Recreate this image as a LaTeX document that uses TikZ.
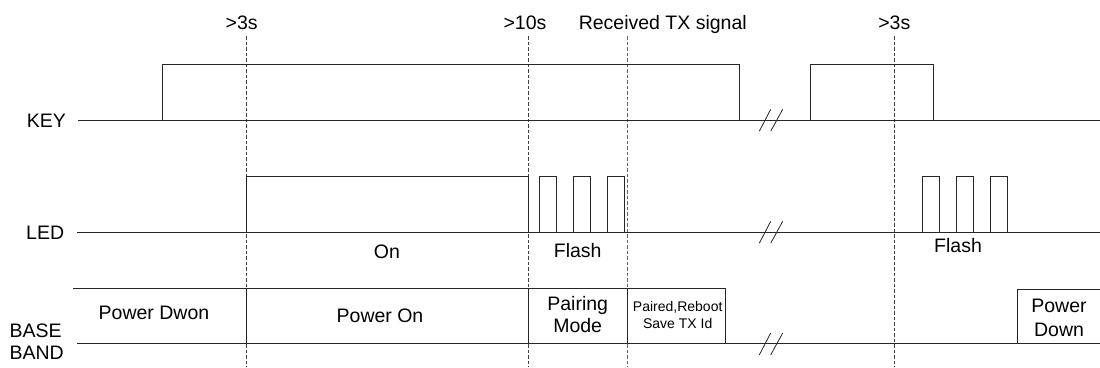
\documentclass[tikz,border=0pt]{standalone}
\usepackage{fontspec}
\setmainfont{Liberation Sans}
\begin{document}
\begin{tikzpicture}[x=1pt,y=-1pt,
  wave/.style={draw=black!85,line width=0.9pt},
  guide/.style={draw=black!75,line width=0.8pt,dash pattern=on 3.5pt off 2pt},
  brk/.style={draw=black!85,line width=0.8pt},
  lbl/.style={inner sep=0pt,anchor=base,font=\fontsize{19.5}{22}\selectfont},
  small/.style={inner sep=0pt,anchor=base,font=\fontsize{14}{16}\selectfont},
  rowlbl/.style={inner sep=0pt,anchor=base west,font=\fontsize{19.5}{22}\selectfont}]
\useasboundingbox (0,0) rectangle (1100,367);
\fill[white] (0,0) rectangle (1100,367);

% guide lines
\draw[guide] (246.7,36) -- (246.7,367);
\draw[guide] (528.7,36) -- (528.7,367);
\draw[guide,draw=black!60] (627,36) -- (627,367);
\draw[guide] (894.7,36) -- (894.7,367);

% top labels
\node[lbl] (t1) at (241.7,29) {>3s};
\node[lbl] (t2) at (525,29) {>10s};
\node[lbl] (t3) at (662.8,29) {Received TX signal};
\node[lbl] (t4) at (894.3,29) {>3s};

% row labels
\node[rowlbl] (key) at (26.7,127) {KEY};
\node[rowlbl] (led) at (26,239) {LED};
\node[rowlbl] (base) at (9.3,337) {BASE};
\node[rowlbl] (band) at (9.3,359) {BAND};

% KEY waveform
\draw[wave] (77.7,120) -- (1100,120);
\draw[wave] (162.3,120) -- (162.3,64.3) -- (739.3,64.3) -- (739.3,120);
\draw[wave] (810.3,120) -- (810.3,64.3) -- (933,64.3) -- (933,120);

% LED waveform
\draw[wave] (77,232) -- (1100,232);
\draw[wave] (246.7,232) -- (246.7,176) -- (528,176) -- (528,232);
\foreach \a/\b in {539.7/556.7,573.3/590.3,607.3/624.3,922.7/939.3,956.7/973.3,990.3/1007.3}
  \draw[wave] (\a,232) -- (\a,176) -- (\b,176) -- (\b,232);

% BASE BAND
\draw[wave] (73.3,288) -- (725.7,288) -- (725.7,343.7);
\draw[wave] (77.3,343.7) -- (1100,343.7);
\foreach \x in {246.7,528,627}
  \draw[wave] (\x,288) -- (\x,343.7);
\draw[wave] (1017.3,343.7) -- (1017.3,289.3) -- (1100,289.3);

% break marks
\foreach \y in {120,232,343.7}{
  \draw[brk] (759.3,\y+11.2) -- (770.7,\y-10.7);
  \draw[brk] (770.7,\y+11.2) -- (782.7,\y-10.7);
}

% state labels
\node[lbl] (on) at (387,258) {On};
\node[lbl] (fl1) at (577.7,257.7) {Flash};
\node[lbl] (fl2) at (958,252) {Flash};
\node[lbl] (pd) at (154,319) {Power Dwon};
\node[lbl] (pon) at (380,322) {Power On};
\node[lbl] (pm1) at (577.7,310) {Pairing};
\node[lbl] (pm2) at (577.7,332.7) {Mode};
\node[small] (pr1) at (677.7,311.7) {Paired,Reboot};
\node[small] (pr2) at (677.7,328) {Save TX Id};
\node[lbl] (pw1) at (1059,312.7) {Power};
\node[lbl] (pw2) at (1059,336) {Down};
\end{tikzpicture}
\end{document}
